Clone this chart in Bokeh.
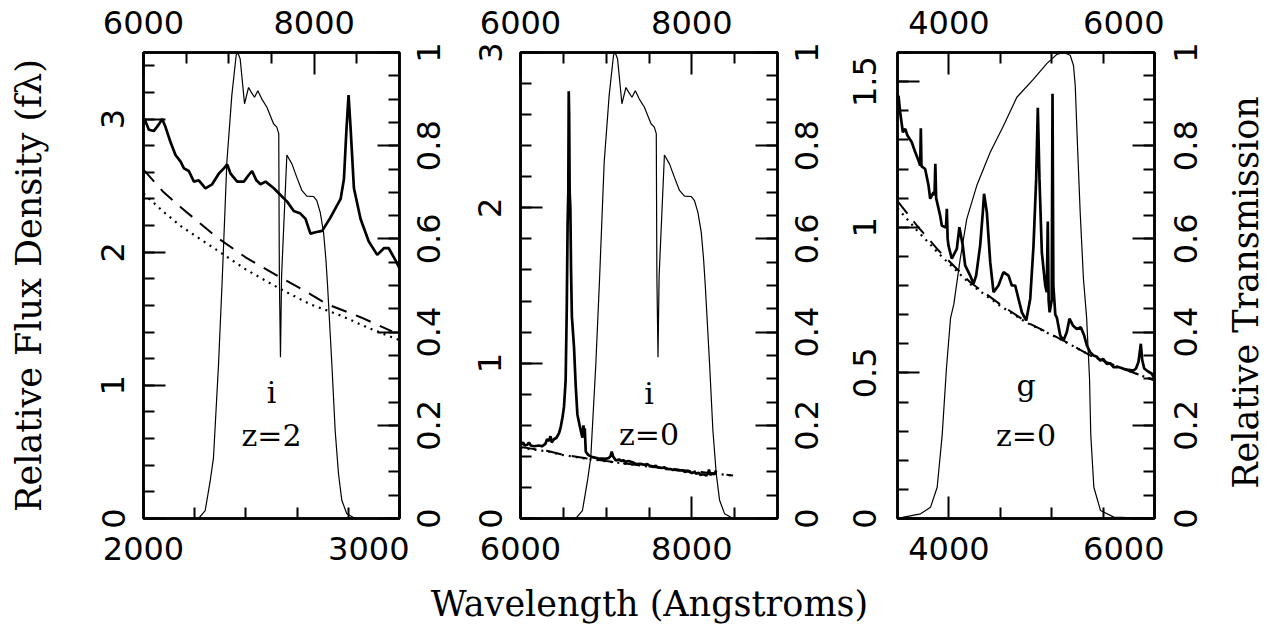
import math
from bokeh.plotting import figure
from bokeh.models import Range1d, LinearAxis, FixedTicker, Label, ColumnDataSource
from bokeh.core.properties import value
from bokeh.layouts import row, column
from bokeh.embed import file_html
from bokeh.resources import INLINE

# ---------------- data ----------------
# SDSS i filter transmission vs observed wavelength (Angstrom)
ifilt_wave = [6400, 6645, 6723, 6781, 6820, 6879, 6922, 6977, 7035, 7086, 7105, 7133,
              7184, 7231, 7262, 7301, 7340, 7387, 7445, 7485, 7524, 7562, 7585, 7592,
              7605, 7618, 7680, 7739, 7797, 7856, 7914, 7992, 8031, 8071, 8110, 8137,
              8157, 8207, 8246, 8285, 8324, 8383, 8481, 9000]
ifilt_trans = [0.0, 0.0, 0.017, 0.08, 0.13, 0.33, 0.51, 0.765, 0.908, 0.994, 1.0, 0.986,
               0.89, 0.925, 0.915, 0.904, 0.918, 0.90, 0.883, 0.865, 0.847, 0.84, 0.826, 0.52,
               0.346, 0.52, 0.78, 0.761, 0.732, 0.704, 0.692, 0.691, 0.682, 0.657, 0.614, 0.557,
               0.50, 0.332, 0.189, 0.096, 0.039, 0.01, 0.0, 0.0]

# SDSS g filter transmission
gfilt_wave = [3500, 3561, 3724, 3821, 3886, 3935, 3977, 4016, 4048, 4110, 4174, 4272,
              4402, 4531, 4661, 4823, 4952, 5050, 5115, 5180, 5212, 5229, 5251, 5277,
              5309, 5340, 5368, 5380, 5410, 5475, 5604, 6000]
gfilt_trans = [0.0, 0.003, 0.01, 0.024, 0.067, 0.18, 0.325, 0.43, 0.46, 0.557, 0.643, 0.715,
               0.786, 0.843, 0.904, 0.943, 0.976, 0.996, 1.0, 0.994, 0.972, 0.929, 0.80, 0.657,
               0.514, 0.43, 0.30, 0.18, 0.067, 0.017, 0.003, 0.0]

# Panel 1: quasar composite, rest frame, z = 2 (i band)
p1_wave = [2000, 2004, 2021, 2040, 2060, 2073, 2086, 2105, 2125, 2145, 2158, 2177, 2197,
           2216, 2242, 2268, 2294, 2314, 2327, 2340, 2366, 2392, 2411, 2424, 2441, 2457,
           2477, 2509, 2535, 2561, 2587, 2613, 2633, 2652, 2672, 2698, 2730, 2770, 2783,
           2793, 2801, 2809, 2822, 2848, 2880, 2913, 2939, 2958, 2984, 3000]
p1_flux = [3.00, 3.00, 2.92, 2.91, 2.96, 3.00, 2.94, 2.83, 2.73, 2.68, 2.63, 2.61, 2.53,
           2.54, 2.48, 2.51, 2.59, 2.63, 2.66, 2.59, 2.53, 2.53, 2.58, 2.61, 2.54, 2.51,
           2.53, 2.48, 2.43, 2.38, 2.31, 2.29, 2.25, 2.14, 2.15, 2.16, 2.26, 2.40, 2.55,
           2.93, 3.18, 2.93, 2.48, 2.25, 2.08, 1.98, 2.03, 2.03, 1.94, 1.88]
p1_dash_wave = [2000, 2079, 2150, 2288, 2400, 2535, 2620, 2717, 2850, 2971]
p1_dash_flux = [2.62, 2.45, 2.33, 2.11, 1.96, 1.81, 1.72, 1.61, 1.51, 1.405]
p1_dot_wave = [2000, 2080, 2150, 2307, 2400, 2529, 2650, 2770, 2880, 3000]
p1_dot_flux = [2.44, 2.30, 2.19, 1.99, 1.87, 1.73, 1.61, 1.525, 1.43, 1.34]

# Panel 2: z = 0, i band
p2_wave = [6000, 6030, 6050, 6080, 6098, 6120, 6160, 6215, 6250, 6290, 6310, 6332, 6350,
           6365, 6390, 6420, 6450, 6470, 6490, 6508, 6527, 6540, 6550, 6558, 6563, 6568,
           6574, 6582, 6590, 6600, 6625, 6645, 6664, 6690, 6710, 6723, 6735, 6742, 6750,
           6762, 6790, 6820, 6840, 6880, 6920, 6960, 6996, 7030, 7050, 7065, 7080, 7113,
           7150, 7180, 7200, 7230, 7260, 7309, 7350, 7400, 7450, 7480, 7504, 7550, 7580,
           7600, 7650, 7680, 7699, 7750, 7780, 7800, 7850, 7895, 7920, 7950, 8000, 8030,
           8051, 8080, 8100, 8140, 8168, 8190, 8200, 8215, 8240, 8260, 8285]
p2_flux = [0.47, 0.49, 0.47, 0.475, 0.49, 0.47, 0.465, 0.47, 0.465, 0.48, 0.51, 0.50, 0.53,
           0.49, 0.51, 0.52, 0.55, 0.59, 0.65, 0.72, 0.89, 1.35, 1.9, 2.1, 2.75, 2.6,
           2.1, 2.0, 1.6, 1.3, 1.10, 0.85, 0.67, 0.60, 0.55, 0.52, 0.60, 0.53, 0.58,
           0.43, 0.41, 0.40, 0.395, 0.39, 0.385, 0.385, 0.384, 0.39, 0.40, 0.43, 0.40, 0.373,
           0.38, 0.37, 0.375, 0.365, 0.37, 0.362, 0.35, 0.352, 0.345, 0.35, 0.341, 0.335, 0.34,
           0.33, 0.325, 0.33, 0.32, 0.318, 0.312, 0.315, 0.31, 0.309, 0.30, 0.305, 0.293, 0.30,
           0.288, 0.295, 0.28, 0.285, 0.277, 0.29, 0.315, 0.28, 0.29, 0.285, 0.309]
p2_dash_wave = [6000, 6332, 6500, 6762, 7000, 7500, 8000, 8481]
p2_dash_flux = [0.46, 0.433, 0.41, 0.388, 0.37, 0.335, 0.305, 0.277]
p2_dot_wave = [6000, 6332, 6500, 6762, 7000, 7500, 8000, 8481]
p2_dot_flux = [0.455, 0.43, 0.408, 0.386, 0.368, 0.334, 0.304, 0.276]

# Panel 3: z = 0, g band
p3_wave = [3500, 3510, 3526, 3552, 3575, 3597, 3639, 3672, 3704, 3721, 3727, 3733, 3769,
           3802, 3818, 3850, 3860, 3868, 3876, 3915, 3931, 3964, 3972, 3980, 3988, 3996,
           4028, 4077, 4102, 4135, 4158, 4207, 4239, 4265, 4304, 4330, 4342, 4369, 4402,
           4434, 4482, 4531, 4580, 4612, 4645, 4677, 4710, 4752, 4791, 4823, 4849, 4865,
           4881, 4904, 4937, 4952, 4962, 4970, 4980, 5000, 5008, 5016, 5035, 5050, 5083,
           5115, 5147, 5173, 5206, 5244, 5283, 5316, 5342, 5374, 5407, 5440, 5472, 5500,
           5536, 5570, 5601, 5650, 5699, 5750, 5796, 5820, 5844, 5867, 5880, 5900, 5925,
           5974, 6000]
p3_flux = [1.45, 1.45, 1.395, 1.326, 1.338, 1.315, 1.292, 1.258, 1.229, 1.212, 1.34, 1.21, 1.20,
           1.143, 1.098, 1.12, 1.11, 1.218, 1.10, 1.04, 1.006, 1.0, 1.0, 1.063, 0.96, 0.937,
           0.892, 0.926, 1.0, 0.937, 0.869, 0.834, 0.806, 0.834, 0.937, 1.052, 1.115, 1.052, 0.88,
           0.777, 0.80, 0.846, 0.834, 0.80, 0.80, 0.754, 0.708, 0.68, 0.754, 0.937, 1.166, 1.41,
           1.166, 0.914, 0.80, 0.777, 1.02, 0.75, 0.708, 0.75, 1.458, 0.80, 0.70, 0.69, 0.628,
           0.611, 0.64, 0.686, 0.663, 0.651, 0.657, 0.628, 0.594, 0.571, 0.56, 0.555, 0.542, 0.548,
           0.531, 0.533, 0.52, 0.52, 0.514, 0.51, 0.508, 0.515, 0.537, 0.60, 0.545, 0.515, 0.508,
           0.497, 0.48]
p3_dash_wave = [3500, 3688, 3900, 4207, 4500, 4758, 5115, 5374, 5700, 6000]
p3_dash_flux = [1.09, 1.006, 0.92, 0.811, 0.735, 0.674, 0.611, 0.56, 0.513, 0.474]
p3_dot_wave = [3500, 3688, 3900, 4207, 4500, 4758, 5115, 5374, 5700, 6000]
p3_dot_flux = [1.065, 0.99, 0.91, 0.805, 0.73, 0.672, 0.61, 0.56, 0.513, 0.474]

# tick values and labels
p1_xticks, p1_xminor = [2000, 3000], [2200, 2400, 2600, 2800]
p1_topticks, p1_topminor = [6000, 8000], [6500, 7000, 7500, 8500]
p1_yticks, p1_yminor = [0, 1, 2, 3], [0.2 * k for k in range(18)]
p2_xticks, p2_xminor = [6000, 8000], [6500, 7000, 7500, 8500]
p2_yticks, p2_yminor = [0, 1, 2, 3], [0.2 * k for k in range(16)]
p3_xticks, p3_xminor = [4000, 6000], [4500, 5000, 5500]
p3_yticks, p3_yminor = [0, 0.5, 1.0, 1.5], [0.1 * k for k in range(17)]
tr_ticks, tr_minor = [0, 0.2, 0.4, 0.6, 0.8, 1.0], [0.05 * k for k in range(21)]
tr_texts = ["0", "0.2", "0.4", "0.6", "0.8", "1"]
p3_ylabels = {0: "0", 0.5: "0.5", 1.0: "1", 1.5: "1.5"}

# ---------------- styling ----------------
NUM_FONT = "DejaVu Sans"
TXT_FONT = "DejaVu Serif"
NUM_SIZE = "32px"
TITLE_SIZE = "35px"
H = 575
TOP, BOTTOM = 52, 57
FRAME_H = H - TOP - BOTTOM


def style_axis(ax, ticks, minor, overrides=None, standoff=18):
    ax.ticker = FixedTicker(ticks=ticks, minor_ticks=minor)
    ax.major_tick_in = 22
    ax.major_tick_out = 0
    ax.minor_tick_in = 11
    ax.minor_tick_out = 0
    ax.major_tick_line_width = 2
    ax.minor_tick_line_width = 2
    ax.major_tick_line_color = "black"
    ax.minor_tick_line_color = "black"
    ax.axis_line_width = 2.5
    ax.axis_line_color = "black"
    ax.major_label_text_font = NUM_FONT
    ax.major_label_text_font_size = NUM_SIZE
    ax.major_label_text_color = "black"
    ax.major_label_standoff = standoff
    if overrides:
        ax.major_label_overrides = overrides


def make_fig(w, xr, yr, obs, bl, br):
    p = figure(width=w, height=H, x_range=Range1d(*xr), y_range=Range1d(*yr),
               output_backend="svg", toolbar_location=None, title=None,
               min_border_left=bl, min_border_right=br,
               min_border_top=TOP, min_border_bottom=BOTTOM)
    p.extra_x_ranges = {"obs": Range1d(*obs)}
    p.extra_y_ranges = {"trans": Range1d(0, 1)}
    p.xgrid.visible = False
    p.ygrid.visible = False
    p.outline_line_color = "black"
    p.outline_line_width = 2.5
    p.background_fill_color = "white"
    p.border_fill_color = "white"
    return p


def add_axes(p, xt, xm, tt, tm, yt, ym, yover=None, ystand=19):
    style_axis(p.xaxis[0], xt, xm, standoff=18)
    style_axis(p.yaxis[0], yt, ym, overrides=yover, standoff=ystand)
    p.yaxis[0].major_label_orientation = "vertical"
    top = LinearAxis(x_range_name="obs")
    style_axis(top, tt, tm, standoff=19)
    p.add_layout(top, "above")
    right = LinearAxis(y_range_name="trans")
    style_axis(right, tr_ticks, tr_minor, overrides={v: "" for v in tr_ticks}, standoff=0)
    right.major_label_text_font_size = "0px"
    p.add_layout(right, "right")


def label_strip(w, x_center):
    """Strip to the right of a panel holding the rotated (bottom-to-top) transmission
    tick labels, on the same 0..1 transmission scale as the panel's right axis."""
    s = figure(width=w, height=H, x_range=Range1d(0, w), y_range=Range1d(0, 1),
               output_backend="svg", toolbar_location=None, title=None,
               x_axis_type=None, y_axis_type=None, min_border=0)
    try:
        s.frame_align = False
        s.y_range = Range1d(-BOTTOM / FRAME_H, 1 + TOP / FRAME_H)
    except AttributeError:
        pass
    s.xgrid.visible = False
    s.ygrid.visible = False
    s.outline_line_color = None
    s.background_fill_color = "white"
    s.border_fill_color = "white"
    src = ColumnDataSource(dict(x=[x_center] * len(tr_ticks), y=tr_ticks, t=tr_texts))
    s.text(x="x", y="y", text="t", source=src, angle=math.pi / 2,
           text_align="center", text_baseline="middle",
           text_font=value(NUM_FONT), text_font_size=value(NUM_SIZE), text_color="black")
    return s


def add_text(p, x, y, txt):
    p.add_layout(Label(x=x, y=y, text=txt, text_font=TXT_FONT, text_font_size="30px",
                       text_align="center", text_baseline="alphabetic", text_color="black"))


# ---------------- panel 1 ----------------
f1 = make_fig(409, (2000, 3000), (0, 3.5), (6000, 9000), 143, 10)
add_axes(f1, p1_xticks, p1_xminor, p1_topticks, p1_topminor, p1_yticks, p1_yminor, ystand=19)
ya = f1.yaxis[0]
ya.axis_label = "Relative Flux Density (fλ)"
ya.axis_label_text_font = TXT_FONT
ya.axis_label_text_font_size = TITLE_SIZE
ya.axis_label_text_font_style = "normal"
ya.axis_label_text_color = "black"
ya.axis_label_standoff = 50
f1.line(ifilt_wave, ifilt_trans, x_range_name="obs", y_range_name="trans",
        line_color="black", line_width=1.2)
f1.line(p1_dash_wave, p1_dash_flux, line_color="black", line_width=2, line_dash="16 10")
f1.line(p1_dot_wave, p1_dot_flux, line_color="black", line_width=2.2, line_dash="2 5")
f1.line(p1_wave, p1_flux, line_color="black", line_width=2.7)
add_text(f1, 2500, 0.946, "i")
add_text(f1, 2500, 0.623, "z=2")
r1 = label_strip(53, 19)

# ---------------- panel 2 ----------------
f2 = make_fig(325, (6000, 9000), (0, 3), (6000, 9000), 58, 10)
add_axes(f2, p2_xticks, p2_xminor, p2_xticks, p2_xminor, p2_yticks, p2_yminor, ystand=19)
f2.line(ifilt_wave, ifilt_trans, y_range_name="trans", line_color="black", line_width=1.2)
f2.line(p2_dash_wave, p2_dash_flux, line_color="black", line_width=2, line_dash="16 10")
f2.line(p2_dot_wave, p2_dot_flux, line_color="black", line_width=2.2, line_dash="2 5")
f2.line(p2_wave, p2_flux, line_color="black", line_width=2.7)
add_text(f2, 7500, 0.805, "i")
add_text(f2, 7500, 0.543, "z=0")
r2 = label_strip(52, 19)

# ---------------- panel 3 ----------------
f3 = make_fig(325, (3500, 6000), (0, 1.6), (3500, 6000), 58, 10)
add_axes(f3, p3_xticks, p3_xminor, p3_xticks, p3_xminor, p3_yticks, p3_yminor,
         yover=p3_ylabels, ystand=22)
f3.line(gfilt_wave, gfilt_trans, y_range_name="trans", line_color="black", line_width=1.2)
f3.line(p3_dash_wave, p3_dash_flux, line_color="black", line_width=2, line_dash="16 10")
f3.line(p3_dot_wave, p3_dot_flux, line_color="black", line_width=2.2, line_dash="2 5")
f3.line(p3_wave, p3_flux, line_color="black", line_width=2.7)
add_text(f3, 4750, 0.457, "g")
add_text(f3, 4750, 0.286, "z=0")
r3 = label_strip(109, 21)
r3.text(x=[81], y=[0.485], text=["Relative Transmission"], angle=math.pi / 2,
        text_align="center", text_baseline="middle", text_font=value(TXT_FONT),
        text_font_size=value(TITLE_SIZE), text_color="black")

# ---------------- shared x title ----------------
f4 = figure(width=1273, height=54, x_range=Range1d(0, 1273), y_range=Range1d(0, 54),
            output_backend="svg", toolbar_location=None, x_axis_type=None, y_axis_type=None,
            title=None, min_border=0)
f4.xgrid.visible = False
f4.ygrid.visible = False
f4.outline_line_color = None
f4.add_layout(Label(x=649, y=26, text="Wavelength (Angstroms)", text_font=TXT_FONT,
                    text_font_size=TITLE_SIZE, text_align="center", text_baseline="alphabetic",
                    text_color="black"))

layout = column(row(f1, r1, f2, r2, f3, r3, spacing=0), f4, spacing=0)
open("out.html", "w").write(file_html(layout, INLINE))
